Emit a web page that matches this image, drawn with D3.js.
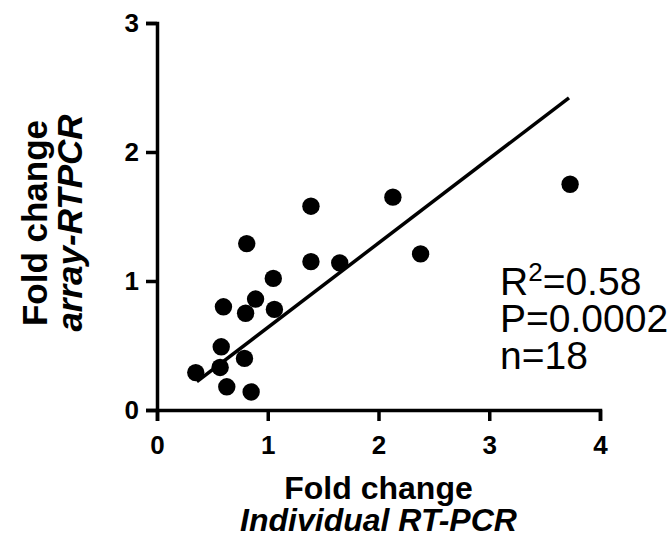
<!DOCTYPE html>
<html>
<head>
<meta charset="utf-8">
<script src="https://cdn.jsdelivr.net/npm/d3@7"></script>
<style>
  body { margin: 0; background: #fff; }
  svg { display: block; font-family: "Liberation Sans", Arial, sans-serif; }
</style>
</head>
<body>
<svg id="chart" width="671" height="542"></svg>
<script>
// fold change values
var foldRT = [0.35, 0.57, 0.58, 0.60, 0.63, 0.79, 0.80, 0.81, 0.85, 0.89, 1.05, 1.06, 1.39, 1.39, 1.65, 2.13, 2.38, 3.73];
var foldArray = [0.29, 0.33, 0.49, 0.80, 0.18, 0.40, 0.75, 1.29, 0.14, 0.86, 1.02, 0.78, 1.15, 1.58, 1.14, 1.65, 1.21, 1.75];
var fitX = [0.36, 3.72];
var fitY = [0.22, 2.42];
var xTicks = [0, 1, 2, 3, 4];
var yTicks = [0, 1, 2, 3];
var statLines = ["R2=0.58", "P=0.0002", "n=18"];

var svg = d3.select("#chart"),
    margin = {top: 23, right: 71, bottom: 132, left: 157},
    width = +svg.attr("width") - margin.left - margin.right,
    height = +svg.attr("height") - margin.top - margin.bottom,
    g = svg.append("g").attr("transform", "translate(" + margin.left + "," + margin.top + ")");

var x = d3.scaleLinear().domain([0, 4]).range([0, width]);
var y = d3.scaleLinear().domain([0, 3]).range([height, 0]);

var xAxis = g.append("g")
    .attr("transform", "translate(0," + height + ")")
    .call(d3.axisBottom(x).tickValues(xTicks).tickSize(11).tickPadding(15).tickFormat(d3.format("d")));

var yAxis = g.append("g")
    .call(d3.axisLeft(y).tickValues(yTicks).tickSize(11).tickPadding(7).tickFormat(d3.format("d")));

[xAxis, yAxis].forEach(function(a) {
  a.attr("font-family", null).attr("font-size", null);
  a.selectAll("path, line").attr("stroke", "#000").attr("stroke-width", 3.5);
  a.selectAll("text").attr("fill", "#000").style("font-size", "26px").style("font-weight", "bold");
});

// regression line
var line = d3.line()
    .x(function(d) { return x(d[0]); })
    .y(function(d) { return y(d[1]); });

g.append("path")
    .datum(d3.zip(fitX, fitY))
    .attr("fill", "none")
    .attr("stroke", "#000")
    .attr("stroke-width", 3.5)
    .attr("d", line);

g.selectAll("circle.pt")
    .data(d3.zip(foldRT, foldArray))
  .enter().append("circle")
    .attr("class", "pt")
    .attr("cx", function(d) { return x(d[0]); })
    .attr("cy", function(d) { return y(d[1]); })
    .attr("r", 8.7)
    .attr("fill", "#000");

// axis titles
var xt = svg.append("text")
    .attr("text-anchor", "middle")
    .attr("font-weight", "bold")
    .attr("font-size", 32);
xt.append("tspan").attr("x", margin.left + width / 2).attr("y", 499).text("Fold change");
xt.append("tspan").attr("x", margin.left + width / 2).attr("y", 531).attr("font-style", "italic").text("Individual RT-PCR");

var yt = svg.append("text")
    .attr("text-anchor", "middle")
    .attr("font-weight", "bold")
    .attr("font-size", 35)
    .attr("transform", "translate(0,223) rotate(-90)");
yt.append("tspan").attr("x", 0).attr("y", 47).text("Fold change");
yt.append("tspan").attr("x", 0).attr("y", 82).attr("font-style", "italic").text("array-RTPCR");

// stats annotation
var st = svg.append("text").attr("font-size", 39).attr("fill", "#000");
statLines.forEach(function(s, i) {
  var t = st.append("tspan").attr("x", 500).attr("y", 295 + i * 37);
  if (s.indexOf("R2") === 0) {
    t.text("R");
    st.append("tspan").attr("dy", -14).attr("font-size", 26).text("2");
    st.append("tspan").attr("dy", 14).text(s.slice(2));
  } else {
    t.text(s);
  }
});
</script>
</body>
</html>
